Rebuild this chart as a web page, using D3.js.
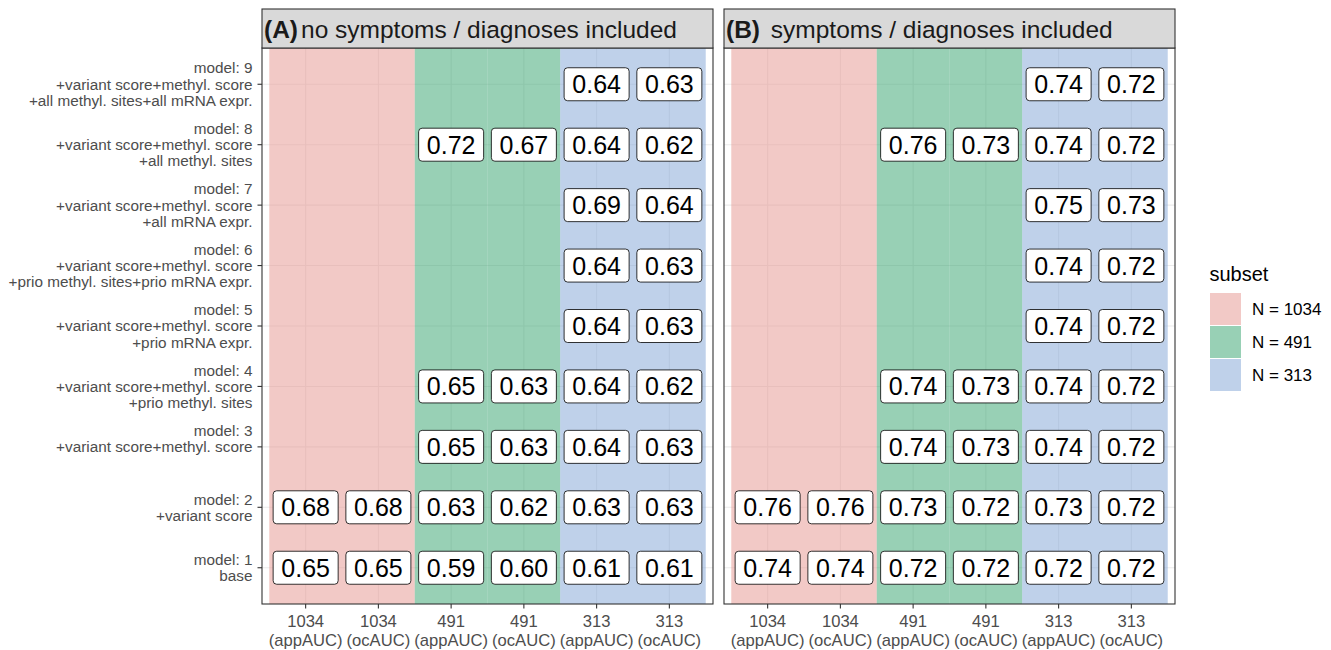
<!DOCTYPE html>
<html>
<head>
<meta charset="utf-8">
<script src="https://cdn.jsdelivr.net/npm/d3@7"></script>
<style>
  body { margin: 0; background: #fff; }
  text { font-family: "Liberation Sans", Arial, sans-serif; }
</style>
</head>
<body>
<div id="container"></div>
<script>
const w = 1331;
const h = 650;

// x categories (two-line tick labels)
const columns = ['1034 (appAUC)', '1034 (ocAUC)', '491 (appAUC)', '491 (ocAUC)', '313 (appAUC)', '313 (ocAUC)'];
const colSubset = ['N = 1034', 'N = 1034', 'N = 491', 'N = 491', 'N = 313', 'N = 313'];
const subsets = ['N = 1034', 'N = 491', 'N = 313'];

// y categories, bottom to top
const models = ['model: 1', 'model: 2', 'model: 3', 'model: 4', 'model: 5', 'model: 6', 'model: 7', 'model: 8', 'model: 9'];
const modelLabels = [
  ['model: 1', 'base'],
  ['model: 2', '+variant score'],
  ['model: 3', '+variant score+methyl. score', ''],
  ['model: 4', '+variant score+methyl. score', '+prio methyl. sites'],
  ['model: 5', '+variant score+methyl. score', '+prio mRNA expr.'],
  ['model: 6', '+variant score+methyl. score', '+prio methyl. sites+prio mRNA expr.'],
  ['model: 7', '+variant score+methyl. score', '+all mRNA expr.'],
  ['model: 8', '+variant score+methyl. score', '+all methyl. sites'],
  ['model: 9', '+variant score+methyl. score', '+all methyl. sites+all mRNA expr.']
];

// AUC values per model (rows, model 1..9) and column
const aucNoSymptoms = [
  [0.65, 0.65, 0.59, 0.60, 0.61, 0.61],
  [0.68, 0.68, 0.63, 0.62, 0.63, 0.63],
  [null, null, 0.65, 0.63, 0.64, 0.63],
  [null, null, 0.65, 0.63, 0.64, 0.62],
  [null, null, null, null, 0.64, 0.63],
  [null, null, null, null, 0.64, 0.63],
  [null, null, null, null, 0.69, 0.64],
  [null, null, 0.72, 0.67, 0.64, 0.62],
  [null, null, null, null, 0.64, 0.63]
];
const aucSymptoms = [
  [0.74, 0.74, 0.72, 0.72, 0.72, 0.72],
  [0.76, 0.76, 0.73, 0.72, 0.73, 0.72],
  [null, null, 0.74, 0.73, 0.74, 0.72],
  [null, null, 0.74, 0.73, 0.74, 0.72],
  [null, null, null, null, 0.74, 0.72],
  [null, null, null, null, 0.74, 0.72],
  [null, null, null, null, 0.75, 0.73],
  [null, null, 0.76, 0.73, 0.74, 0.72],
  [null, null, null, null, 0.74, 0.72]
];

const panels = [
  { tag: '(A)', title: 'no symptoms / diagnoses included', gap: 3, values: aucNoSymptoms, x0: 262, x1: 713 },
  { tag: '(B)', title: '\u00a0symptoms / diagnoses included', gap: 4, values: aucSymptoms, x0: 724, x1: 1175 }
];

const subsetColor = d3.scaleOrdinal()
  .domain(subsets)
  .range(['#e5938d', '#31a16b', '#7fa3d5']);

const stripTop = 9;
const pTop = 48;
const pBottom = 604;

const svg = d3.select('#container')
  .append('svg')
  .attr('width', w)
  .attr('height', h)
  .attr('viewBox', [0, 0, w, h]);

const y = d3.scalePoint()
  .domain(models)
  .range([pBottom, pTop])
  .padding(0.6);

panels.forEach((pn, pi) => {
  const x = d3.scalePoint()
    .domain(columns)
    .range([pn.x0, pn.x1])
    .padding(0.6);
  const step = x.step();

  const g = svg.append('g');

  g.append('rect')
    .attr('x', pn.x0).attr('y', pTop)
    .attr('width', pn.x1 - pn.x0).attr('height', pBottom - pTop)
    .attr('fill', '#fff');

  // grid
  g.selectAll('.gx')
    .data(columns)
    .join('line')
    .attr('x1', d => x(d)).attr('x2', d => x(d))
    .attr('y1', pTop).attr('y2', pBottom)
    .attr('stroke', '#ebebeb').attr('stroke-width', 1.1);
  g.selectAll('.gy')
    .data(models)
    .join('line')
    .attr('x1', pn.x0).attr('x2', pn.x1)
    .attr('y1', d => y(d)).attr('y2', d => y(d))
    .attr('stroke', '#ebebeb').attr('stroke-width', 1.1);

  // subset bands
  g.selectAll('.band')
    .data(columns)
    .join('rect')
    .attr('x', d => x(d) - step / 2)
    .attr('width', step)
    .attr('y', pTop)
    .attr('height', pBottom - pTop)
    .attr('fill', (d, i) => subsetColor(colSubset[i]))
    .attr('fill-opacity', 0.5);

  // labels
  const cells = [];
  pn.values.forEach((row, ri) => {
    row.forEach((v, ci) => {
      if (v !== null) cells.push({ m: models[ri], c: columns[ci], v: v });
    });
  });

  const lab = g.selectAll('.lab')
    .data(cells)
    .join('g')
    .attr('transform', d => `translate(${x(d.c)},${y(d.m)})`);
  lab.append('rect')
    .attr('x', -32.5).attr('y', -16.5)
    .attr('width', 65).attr('height', 33)
    .attr('rx', 3.5)
    .attr('fill', '#fff')
    .attr('stroke', '#000')
    .attr('stroke-width', 0.8);
  lab.append('text')
    .attr('text-anchor', 'middle')
    .attr('y', 9)
    .attr('font-size', 25)
    .attr('fill', '#000')
    .text(d => d.v.toFixed(2));

  // border
  g.append('rect')
    .attr('x', pn.x0).attr('y', pTop)
    .attr('width', pn.x1 - pn.x0).attr('height', pBottom - pTop)
    .attr('fill', 'none')
    .attr('stroke', '#333').attr('stroke-width', 1.1);

  // strip
  g.append('rect')
    .attr('x', pn.x0).attr('y', stripTop)
    .attr('width', pn.x1 - pn.x0).attr('height', pTop - stripTop)
    .attr('fill', '#d9d9d9')
    .attr('stroke', '#333').attr('stroke-width', 1.1);
  const st = g.append('text')
    .attr('x', pn.x0 + 2)
    .attr('y', 37.5)
    .attr('font-size', 24.5)
    .attr('fill', '#1a1a1a');
  st.append('tspan').attr('font-weight', 'bold').text(pn.tag);
  st.append('tspan').attr('dx', pn.gap).text(pn.title);

  // x axis
  const xa = g.append('g');
  xa.selectAll('line')
    .data(columns)
    .join('line')
    .attr('x1', d => x(d)).attr('x2', d => x(d))
    .attr('y1', pBottom).attr('y2', pBottom + 4.5)
    .attr('stroke', '#333').attr('stroke-width', 1.1);
  const xt = xa.selectAll('text')
    .data(columns)
    .join('text')
    .attr('text-anchor', 'middle')
    .attr('font-size', 16.6)
    .attr('fill', '#4d4d4d');
  xt.append('tspan')
    .attr('x', d => x(d)).attr('y', 627)
    .text(d => d.split(' ')[0]);
  xt.append('tspan')
    .attr('x', d => x(d)).attr('y', 645.5)
    .text(d => d.split(' ')[1]);

  // y axis (left panel only)
  if (pi === 0) {
    const ya = g.append('g');
    ya.selectAll('line')
      .data(models)
      .join('line')
      .attr('x1', pn.x0 - 4.5).attr('x2', pn.x0)
      .attr('y1', d => y(d)).attr('y2', d => y(d))
      .attr('stroke', '#333').attr('stroke-width', 1.1);
    ya.selectAll('text')
      .data(models)
      .join('text')
      .attr('text-anchor', 'end')
      .attr('font-size', 15.3)
      .attr('fill', '#4d4d4d')
      .each(function(d, i) {
        const lines = modelLabels[i];
        const n = lines.length;
        d3.select(this).selectAll('tspan')
          .data(lines)
          .join('tspan')
          .attr('x', pn.x0 - 9.5)
          .attr('y', (l, k) => y(d) + 5.4 + (k - (n - 1) / 2) * 16.2)
          .text(l => l);
      });
  }
});

// legend
const lg = svg.append('g');
lg.append('text')
  .attr('x', 1209.5).attr('y', 280.5)
  .attr('font-size', 20)
  .attr('fill', '#000')
  .text('subset');
const items = lg.selectAll('.item')
  .data(subsets)
  .join('g')
  .attr('transform', (d, i) => `translate(1210,${293 + i * 33})`);
items.append('rect')
  .attr('width', 31).attr('height', 32)
  .attr('fill', d => subsetColor(d))
  .attr('fill-opacity', 0.5);
items.append('text')
  .attr('x', 42).attr('y', 22)
  .attr('font-size', 17)
  .attr('fill', '#000')
  .text(d => d);
</script>
</body>
</html>
